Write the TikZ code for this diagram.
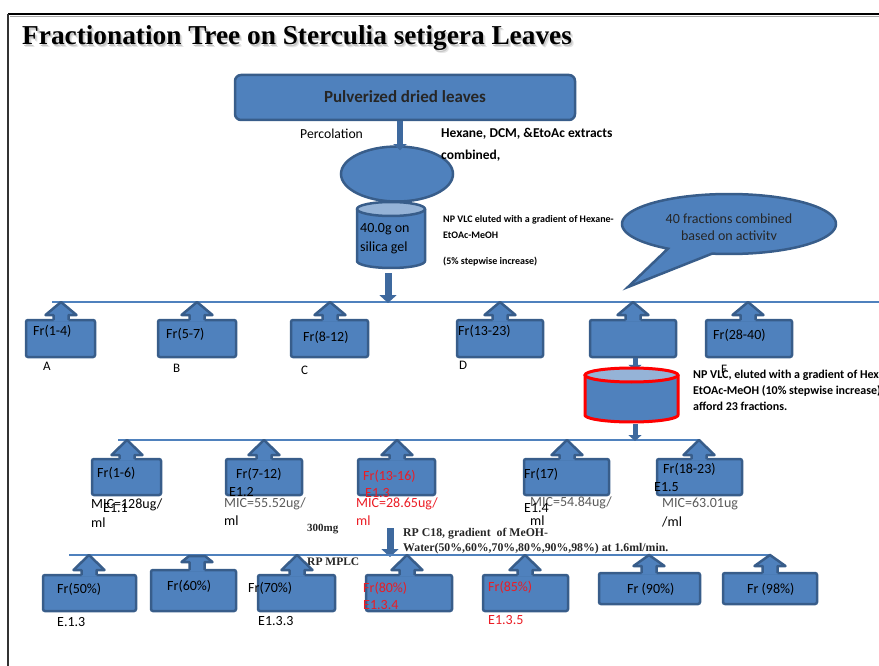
\documentclass[tikz,border=0pt]{standalone}
\usepackage{fontspec}
\setmainfont{Carlito}
\newfontfamily\tnr{Liberation Serif}
\usetikzlibrary{shapes.geometric,fit,arrows.meta}
\definecolor{bfill}{RGB}{79,129,189}
\definecolor{bdraw}{RGB}{56,93,138}
\definecolor{btop}{RGB}{149,179,215}
\definecolor{arr}{RGB}{62,105,158}
\definecolor{rtxt}{RGB}{235,28,36}
\definecolor{mic}{RGB}{90,90,90}
% name, x1, y1, x2, y2, tipx, tipy, headbase y, flat half-width of tip
\newcommand{\frcallout}[9]{%
  \node[cbox, fit={(#2,#3) (#4,#5)}] (#1) {};
  \path[fill=bfill] ({#6-#9},#7) -- ({#6+#9},#7) -- ({#6+15.5},#8) -- ({#6+7.5},#8) -- ({#6+7.5},{#3+1.6}) -- ({#6-7.5},{#3+1.6}) -- ({#6-7.5},#8) -- ({#6-15.5},#8) -- cycle;
  \draw[cline] ({#6-7.5},#3) -- ({#6-7.5},#8) -- ({#6-15.5},#8) -- ({#6-#9},#7) -- ({#6+#9},#7) -- ({#6+15.5},#8) -- ({#6+7.5},#8) -- ({#6+7.5},#3);
}
\begin{document}
\begin{tikzpicture}[x=1pt,y=-1pt,
  cbox/.style={draw=bdraw, fill=bfill, line width=2.5pt, rounded corners=2pt, inner sep=0pt},
  cline/.style={draw=bdraw, line width=2.5pt, line join=round},
  bshape/.style={draw=bdraw, fill=bfill, line width=2.5pt},
  rline/.style={draw=bfill, line width=1.2pt},
  barrow/.style={draw=arr, line width=7pt, -{Triangle[length=8pt,width=17pt]}},
  barrows/.style={draw=arr, line width=5pt, -{Triangle[length=6pt,width=13pt]}},
  txt/.style={anchor=west, inner sep=0pt, font=\fontsize{14}{16}\selectfont},
  txtb/.style={anchor=west, inner sep=0pt, font=\bfseries\fontsize{13.5}{16}\selectfont},
  npl/.style={anchor=west, inner sep=0pt, font=\bfseries\fontsize{10}{12}\selectfont},
  npr/.style={anchor=west, inner sep=0pt, font=\bfseries\fontsize{12}{14}\selectfont},
  ser/.style={anchor=west, inner sep=0pt, font=\tnr\bfseries\fontsize{11.8}{14}\selectfont, text=black!85},
  lab/.style={anchor=west, inner sep=0pt, font=\fontsize{13}{15}\selectfont},
  ttl/.style={anchor=base west, inner sep=0pt, font=\tnr\bfseries\fontsize{27.3}{30}\selectfont},
]
\useasboundingbox (0,0) rectangle (879,666);
\clip (0,0) rectangle (879,666);

% frame
\draw[black!35, line width=1.5pt] (10,16.6) -- (879,16.6);
\draw[black, line width=2pt] (8,14) -- (879,14);
\draw[black!80, line width=1.5pt] (8,14) -- (8,666);

% title with soft shadow
\node[ttl, text=black!10] (titleshadowb) at (24.5,47.8) {Fractionation Tree on Sterculia setigera Leaves};
\node[ttl, text=black!22] (titleshadow) at (23.3,46.6) {Fractionation Tree on Sterculia setigera Leaves};
\node[ttl] (title) at (22,45) {Fractionation Tree on Sterculia setigera Leaves};

% top box
\node[bshape, rounded corners=6pt, minimum width=340pt, minimum height=45pt, inner sep=0pt,
      font=\bfseries\fontsize{17}{20}\selectfont, text=black!85] (pulv) at (405,97.5) {\raisebox{2pt}{Pulverized dried leaves}};

\node[txt, font=\fontsize{13.7}{16}\selectfont] (perc) at (300,134) {Percolation};
\node[txtb] (hex) at (441,134) {Hexane, DCM, \&EtoAc extracts};

% extract ellipse
\node[ellipse, bshape, minimum width=112pt, minimum height=55pt, inner sep=0pt] (ext) at (397,174) {};
\node[txtb] (comb) at (441,156) {combined,};
\draw[barrows, line width=6pt] (ext.north |- pulv.south) ++(3,0) -- ([xshift=3pt, yshift=-5pt]ext.north);

% silica cylinder
\path[fill=bfill] (357,209) -- (357,261) -- plot[domain=180:0,samples=40] ({391+34*cos(\x)},{261+7*sin(\x)}) -- (425,209) -- cycle;
\draw[cline] (357,209) -- (357,261) -- plot[domain=180:0,samples=40] ({391+34*cos(\x)},{261+7*sin(\x)}) -- (425,209);
\draw[cline, fill=btop] (391,209) ellipse [x radius=34, y radius=7];
\coordinate (cyl1b) at (388,273);
\node[txt] (cyl1t1) at (360,229) {40.0g on};
\node[txt] (cyl1t2) at (360,248) {silica gel};

\node[npl] (npl1) at (443,220) {NP VLC eluted with a gradient of Hexane-};
\node[npl] (npl2) at (443,235) {EtOAc-MeOH};
\node[npl] (npl3) at (443,262) {(5\% stepwise increase)};

% speech bubble
\coordinate (bubtip) at (628,287);
\path[bshape] (bubtip) -- plot[domain=124.8:459.1, samples=140] ({729+107*cos(\x)},{224+30*sin(\x)}) -- cycle;
\begin{scope}
\clip (620,200) rectangle (840,239.5);
\node[anchor=center, inner sep=0pt, font=\fontsize{14}{16}\selectfont, text=black!85] (bub1) at (729,219) {40 fractions combined};
\node[anchor=center, inner sep=0pt, font=\fontsize{14}{16}\selectfont, text=black!85] (bub2) at (729,236.5) {based on activity};
\end{scope}

% row 1
\coordinate (r1L) at (52,302);
\coordinate (r1R) at (879,302);
\coordinate (r1c) at (388,303);
\draw[rline] (r1L) -- (r1R);
\draw[barrow] (cyl1b) -- (r1c);
\frcallout{fA}{26}{320}{95}{357}{61}{302}{315}{0}
\frcallout{fB}{158}{320}{236}{357}{197}{302}{315}{0}
\frcallout{fC}{291}{320}{368}{357}{330}{302}{315}{0}
\frcallout{fD}{457}{320}{543}{357}{500}{302}{315}{0}
\frcallout{fE}{590}{320}{676}{357}{633}{302}{315}{0}
\frcallout{fF}{706}{320}{792}{357}{748}{302}{315}{0}
\node[txt] (tA) at (33,331) {Fr(1-4)};
\node[txt] (tB) at (166,334) {Fr(5-7)};
\node[txt] (tC) at (303,337) {Fr(8-12)};
\node[txt] (tD) at (458,331) {Fr(13-23)};
\node[txt] (tF) at (713,335) {Fr(28-40)};
\node[lab] (lA) at (43,366) {A};
\node[lab] (lB) at (173,368) {B};
\node[lab] (lC) at (301,370) {C};
\node[lab] (lD) at (459,365) {D};

% red cylinder
\draw[barrows] ([xshift=2pt]fE.south) -- ([xshift=2pt, yshift=-12.5pt]fE.south);
\path[fill=bfill] (585,375) -- (585,415) -- plot[domain=180:0,samples=40] ({631.5+46.5*cos(\x)},{415+7*sin(\x)}) -- (678,375) -- cycle;
\draw[draw=red, line width=3pt] (585,375) -- (585,415) -- plot[domain=180:0,samples=40] ({631.5+46.5*cos(\x)},{415+7*sin(\x)}) -- (678,375);
\draw[draw=red, line width=3pt, fill=btop] (631.5,375) ellipse [x radius=46.5, y radius=7];
\coordinate (cyl2b) at (635,424);
\node[lab] (lF) at (721,369) {F};
\node[npr] (npr1) at (693,375) {NP VLC, eluted with a gradient of Hexane-};
\node[npr] (npr2) at (693,391) {EtOAc-MeOH (10\% stepwise increase)};
\node[npr] (npr3) at (693,406) {afford 23 fractions.};

% row 2
\coordinate (r2L) at (118,440);
\coordinate (r2R) at (700,440);
\coordinate (r2c) at (635,441);
\draw[rline] (r2L) -- (r2R);
\draw[barrows] (cyl2b) -- (r2c);
\frcallout{g1}{92}{459}{161}{495}{127}{440}{455}{0}
\frcallout{g2}{226}{459}{302}{495}{264}{440}{455}{0}
\frcallout{g3}{358}{459}{435}{495}{397}{440}{455}{0}
\frcallout{g4}{524}{459}{609}{495}{567}{440}{455}{0}
\frcallout{g5}{657}{459}{742}{495}{699}{440}{455}{0}

\node[txt] (g1a) at (97,473) {Fr(1-6)};
\node[txt] (g1b) at (91,505) {MIC=128ug/};
\node[txt] (g1c) at (103,508) {E1.1};
\node[txt] (g1d) at (91,523) {ml};

\node[txt] (g2a) at (236,474) {Fr(7-12)};
\node[txt] (g2b) at (229,492) {E1.2};
\node[txt, text=mic] (g2c) at (224,504) {MIC=55.52ug/};
\node[txt] (g2d) at (224,521) {ml};

\node[txt, text=rtxt] (g3a) at (363,476) {Fr(13-16)};
\node[txt, text=rtxt] (g3b) at (365,493) {E1.3};
\node[txt, text=rtxt] (g3c) at (356,504) {MIC=28.65ug/};
\node[txt, text=rtxt] (g3d) at (356,521) {ml};

\node[txt] (g4a) at (524,474) {Fr(17)};
\node[txt, text=mic] (g4b) at (530,503) {MIC=54.84ug/};
\node[txt] (g4c) at (524,508) {E1.4};
\node[txt] (g4d) at (530,521) {ml};

\node[txt] (g5a) at (663,469) {Fr(18-23)};
\node[txt] (g5b) at (654,487) {E1.5};
\node[txt, text=mic] (g5c) at (662,504) {MIC=63.01ug};
\node[txt] (g5d) at (662,522) {/ml};

% RP step
\node[ser, font=\tnr\bfseries\fontsize{11}{13}\selectfont] (mg) at (307,529) {300mg};
\coordinate (a5s) at (390,528);
\coordinate (a5e) at (390,557);
\draw[barrow] (a5s) -- (a5e);
\node[ser] (rp1) at (403,534) {RP C18, gradient\ \ of MeOH-};
\node[ser] (rp2) at (403,549) {Water(50\%,60\%,70\%,80\%,90\%,98\%) at 1.6ml/min.};

% row 3
\coordinate (r3L) at (69,555);
\coordinate (r3R) at (770,555);
\draw[rline] (r3L) -- (r3R);
\node[ser, font=\tnr\bfseries\fontsize{11.5}{13}\selectfont] (mplc) at (307,562) {RP MPLC};
\frcallout{h1}{43}{575}{136}{611}{89}{555}{570}{0}
\frcallout{h2}{151}{570}{236}{611}{197}{556}{562}{8}
\frcallout{h3}{258}{575}{335}{611}{297}{555}{570}{0}
\frcallout{h4}{366}{575}{452}{611}{407}{555}{570}{0}
\frcallout{h5}{483}{575}{568}{611}{525}{555}{570}{0}
\frcallout{h6}{599}{573}{700}{604}{649}{555}{566}{0}
\frcallout{h7}{723}{573}{817}{604}{770}{555}{566}{0}

\node[txt] (h1a) at (57,589) {Fr(50\%)};
\node[txt] (h2a) at (167,586) {Fr(60\%)};
\node[txt] (h3a) at (248,588) {Fr(70\%)};
\node[txt, text=rtxt] (h4a) at (363,588) {Fr(80\%)};
\node[txt, text=rtxt] (h4b) at (363,605) {E1.3.4};
\node[txt, text=rtxt] (h5a) at (488,587) {Fr(85\%)};
\node[txt] (h6a) at (627,589) {Fr (90\%)};
\node[txt] (h7a) at (747,589) {Fr (98\%)};
\node[txt] (h1b) at (57,622) {E.1.3};
\node[txt] (h3b) at (258,621) {E1.3.3};
\node[txt, text=rtxt] (h5b) at (488,620) {E1.3.5};
\end{tikzpicture}
\end{document}
